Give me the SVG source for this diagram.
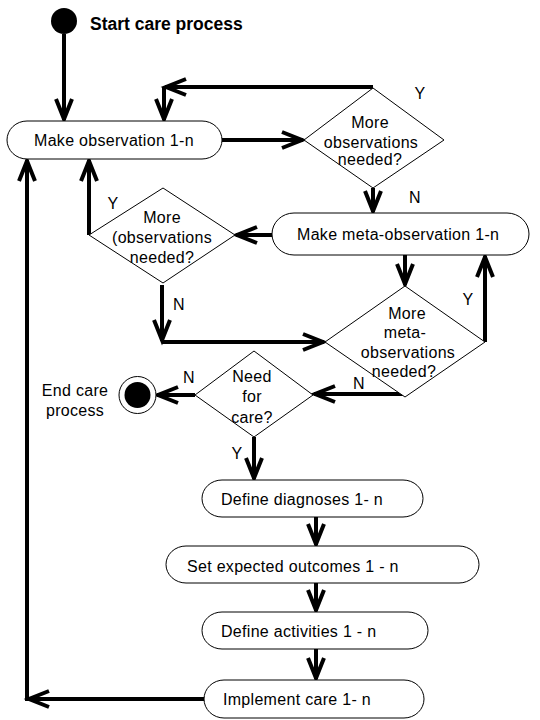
<svg xmlns="http://www.w3.org/2000/svg" width="540" height="720" viewBox="0 0 540 720">
<style>
text{font-family:"Liberation Sans",Arial,sans-serif;font-size:16px;letter-spacing:0.3px;fill:#000}
.title{font-weight:bold;font-size:17.5px;letter-spacing:0}
.c{text-anchor:middle}
.shape{fill:#fff;stroke:#000;stroke-width:1}
.conn{fill:none;stroke:#000;stroke-width:4}
</style>
<defs>
<marker id="arr" viewBox="-24 -12 30 24" markerWidth="30" markerHeight="24" refX="1" refY="0" orient="auto" markerUnits="userSpaceOnUse">
<path d="M-20,-8 L0,0 L-20,8" fill="none" stroke="#000" stroke-width="4" stroke-linejoin="miter" stroke-miterlimit="3"/>
</marker>
</defs>
<g id="connectors" class="conn">
<line x1="64" y1="34" x2="64" y2="120" marker-end="url(#arr)"/>
<line x1="222" y1="140" x2="303" y2="140" marker-end="url(#arr)"/>
<line x1="373" y1="87" x2="165" y2="87" marker-end="url(#arr)"/>
<line x1="164" y1="87" x2="164" y2="120" marker-end="url(#arr)"/>
<line x1="373" y1="188" x2="373" y2="212" marker-end="url(#arr)"/>
<line x1="272" y1="235" x2="236" y2="235" marker-end="url(#arr)"/>
<line x1="89" y1="235" x2="89" y2="160" marker-end="url(#arr)"/>
<line x1="162" y1="285" x2="162" y2="341" marker-end="url(#arr)"/>
<line x1="162" y1="342" x2="324" y2="342" marker-end="url(#arr)"/>
<line x1="405" y1="255" x2="405" y2="285" marker-end="url(#arr)"/>
<line x1="485" y1="342" x2="485" y2="256" marker-end="url(#arr)"/>
<line x1="404" y1="394" x2="314" y2="394" marker-end="url(#arr)"/>
<line x1="195" y1="395" x2="157" y2="395" marker-end="url(#arr)"/>
<line x1="254" y1="437" x2="254" y2="479" marker-end="url(#arr)"/>
<line x1="316" y1="517" x2="316" y2="545" marker-end="url(#arr)"/>
<line x1="316" y1="583" x2="316" y2="611" marker-end="url(#arr)"/>
<line x1="316" y1="649" x2="316" y2="679" marker-end="url(#arr)"/>
<line x1="210" y1="699" x2="28" y2="699" marker-end="url(#arr)"/>
<line x1="27" y1="701" x2="27" y2="160" marker-end="url(#arr)"/>
</g>
<g id="labels">
<text class="c" x="420" y="99">Y</text>
<text class="c" x="415" y="203">N</text>
<text class="c" x="113" y="209">Y</text>
<text class="c" x="179" y="310">N</text>
<text class="c" x="468" y="305">Y</text>
<text class="c" x="359" y="389">N</text>
<text class="c" x="189" y="383">N</text>
<text class="c" x="237" y="459">Y</text>
</g>
<g id="start">
<circle cx="64" cy="21" r="13" fill="#000"/>
<text class="title" x="90" y="30">Start care process</text>
</g>
<g id="make-observation">
<rect class="shape" x="7" y="121" width="215" height="38" rx="20" ry="19"/>
<text x="34" y="146">Make observation 1-n</text>
</g>
<g id="decision-more-observations">
<polygon class="shape" points="373,88 444,140 373,188 304,140"/>
<text class="c" x="370" y="128">More</text>
<text class="c" x="371" y="148">observations</text>
<text class="c" x="370" y="165">needed?</text>
</g>
<g id="make-meta-observation">
<rect class="shape" x="272" y="213" width="257" height="42" rx="22" ry="21"/>
<text x="297" y="240">Make meta-observation 1-n</text>
</g>
<g id="decision-more-observations-2">
<polygon class="shape" points="163,188 235,235 163,283 89,235"/>
<text class="c" x="162" y="223">More</text>
<text class="c" x="162" y="243">(observations</text>
<text class="c" x="162" y="263">needed?</text>
</g>
<g id="decision-more-meta">
<polygon class="shape" points="405,286 485,342 405,397 325,342"/>
<text class="c" x="407" y="319">More</text>
<text class="c" x="405" y="338">meta-</text>
<text class="c" x="408" y="358">observations</text>
<text class="c" x="404" y="377">needed?</text>
</g>
<g id="decision-need-for-care">
<polygon class="shape" points="254,351 313,395 254,437 195,395"/>
<text class="c" x="252" y="382">Need</text>
<text class="c" x="252" y="402">for</text>
<text class="c" x="252" y="423">care?</text>
</g>
<g id="end">
<circle cx="137.5" cy="395" r="18.5" fill="#fff" stroke="#000" stroke-width="1"/>
<circle cx="137.5" cy="395" r="13" fill="#000"/>
<text class="c" x="75" y="396">End care</text>
<text class="c" x="75" y="416">process</text>
</g>
<g id="define-diagnoses">
<rect class="shape" x="202" y="480" width="221" height="37" rx="20" ry="18.5"/>
<text x="221" y="505">Define diagnoses 1- n</text>
</g>
<g id="set-expected-outcomes">
<rect class="shape" x="166" y="546" width="313" height="37" rx="20" ry="18.5"/>
<text x="187" y="572">Set expected outcomes 1 - n</text>
</g>
<g id="define-activities">
<rect class="shape" x="202" y="612" width="226" height="37" rx="20" ry="18.5"/>
<text x="221" y="637">Define activities 1 - n</text>
</g>
<g id="implement-care">
<rect class="shape" x="204" y="680" width="220" height="38" rx="20" ry="19"/>
<text x="223" y="705">Implement care 1- n</text>
</g>
</svg>
